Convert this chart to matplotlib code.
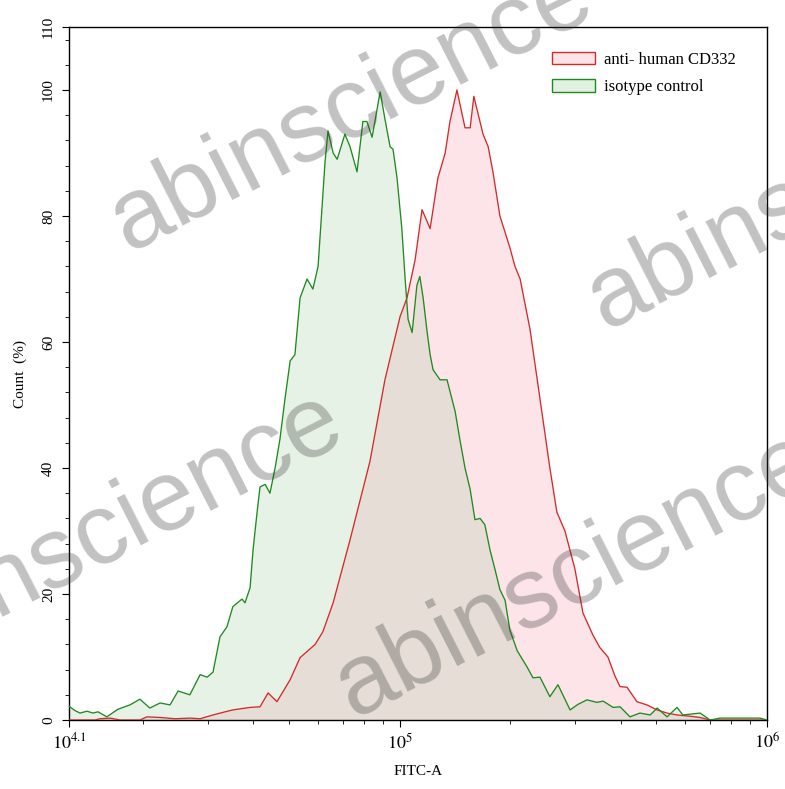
import matplotlib
matplotlib.use("Agg")
import matplotlib.pyplot as plt
from matplotlib.patches import Patch
from matplotlib.ticker import FixedLocator, NullFormatter, LogLocator
import numpy as np

plt.rcParams['font.family'] = ['Liberation Serif', 'DejaVu Serif']
plt.rcParams['mathtext.fontset'] = 'stix'

# ---- data (x as log10 of FITC-A, y as Count %) ----
red_logx = [4.100, 4.171, 4.184, 4.212, 4.239, 4.293, 4.312, 4.348, 4.389, 4.429,
            4.457, 4.492, 4.525, 4.546, 4.593, 4.620, 4.642, 4.666, 4.702, 4.729,
            4.770, 4.791, 4.819, 4.865, 4.919, 4.960, 5.001, 5.020, 5.042, 5.061,
            5.083, 5.104, 5.124, 5.137, 5.156, 5.178, 5.192, 5.202, 5.227, 5.241,
            5.254, 5.273, 5.300, 5.314, 5.328, 5.355, 5.382, 5.409, 5.428, 5.450,
            5.477, 5.499, 5.526, 5.545, 5.567, 5.586, 5.600, 5.619, 5.646, 5.673,
            5.701, 5.728, 5.755, 5.790, 5.818, 5.845, 6.000]
red_count = [0.0, 0.0, 0.2, 0.3, 0.0, 0.0, 0.5, 0.4, 0.2, 0.3,
             0.2, 0.8, 1.3, 1.6, 2.0, 2.1, 4.3, 2.9, 6.4, 9.9,
             12.0, 14.0, 18.6, 28.6, 41.0, 54.0, 64.0, 67.0, 73.0, 81.0,
             78.0, 86.0, 90.0, 95.0, 100.0, 94.0, 94.0, 99.0, 93.0, 91.0,
             87.0, 80.0, 75.0, 72.0, 70.0, 62.0, 51.0, 40.0, 33.0, 30.0,
             24.0, 17.0, 13.5, 11.5, 10.0, 7.0, 5.3, 5.2, 2.9, 2.4,
             1.6, 1.1, 0.8, 0.6, 0.4, 0.0, 0.0]

green_logx = [4.100, 4.116, 4.130, 4.149, 4.165, 4.179, 4.203, 4.233, 4.266, 4.293,
              4.320, 4.348, 4.375, 4.397, 4.429, 4.457, 4.476, 4.492, 4.511, 4.530,
              4.546, 4.571, 4.579, 4.593, 4.601, 4.612, 4.620, 4.634, 4.647, 4.661,
              4.674, 4.688, 4.702, 4.715, 4.729, 4.748, 4.764, 4.778, 4.797, 4.805,
              4.819, 4.830, 4.851, 4.865, 4.884, 4.900, 4.911, 4.925, 4.947, 4.960,
              4.974, 4.982, 4.993, 5.006, 5.015, 5.023, 5.034, 5.047, 5.055, 5.064,
              5.075, 5.083, 5.091, 5.110, 5.129, 5.151, 5.164, 5.178, 5.192, 5.205,
              5.219, 5.232, 5.246, 5.260, 5.273, 5.287, 5.300, 5.320, 5.347, 5.363,
              5.382, 5.409, 5.431, 5.464, 5.486, 5.510, 5.537, 5.554, 5.581, 5.600,
              5.627, 5.654, 5.682, 5.701, 5.728, 5.755, 5.771, 5.818, 5.845, 5.872,
              5.935, 5.981, 6.000]
green_count = [2.2, 1.5, 1.1, 1.4, 1.1, 1.3, 0.5, 1.7, 2.4, 3.3,
               1.9, 2.7, 2.4, 4.6, 4.0, 7.2, 6.8, 7.6, 13.2, 14.8,
               18.0, 19.2, 18.6, 21.0, 27.0, 33.0, 37.0, 37.4, 36.0, 40.0,
               44.5, 51.0, 57.0, 58.0, 67.0, 70.0, 68.4, 72.0, 88.6, 93.5,
               90.0, 89.0, 93.0, 91.0, 87.0, 95.0, 95.0, 92.5, 99.7, 95.4,
               91.0, 90.6, 86.0, 78.0, 70.0, 63.6, 61.5, 69.0, 70.4, 67.0,
               61.5, 58.0, 55.6, 54.0, 54.0, 49.0, 44.5, 40.0, 36.6, 31.8,
               32.0, 31.0, 27.0, 23.8, 20.7, 19.0, 14.3, 11.0, 8.4, 6.7,
               6.8, 3.7, 5.6, 1.6, 2.5, 3.2, 2.8, 3.0, 2.0, 2.1,
               0.5, 1.1, 0.8, 1.9, 0.5, 2.0, 0.8, 1.1, 0.0, 0.3,
               0.3, 0.3, 0.0]

series_labels = ["anti- human CD332", "isotype control"]
y_ticks = [0, 20, 40, 60, 80, 100, 110]
x_ticks_exp = [4.1, 5, 6]
x_tick_labels = [r"$10^{4.1}$", r"$10^{5}$", r"$10^{6}$"]

W, H = 785, 789
fig = plt.figure(figsize=(W / 100, H / 100), dpi=100)
ax = fig.add_axes([69 / W, 1 - 720 / H, (767 - 69) / W, (720 - 27) / H])

red_x = 10 ** np.array(red_logx)
green_x = 10 ** np.array(green_logx)

red_line = '#d42a2a'
green_line = '#1f8a1f'
ax.fill_between(red_x, red_count, 0, facecolor='#fde4e8', edgecolor='none', zorder=1)
ax.fill_between(green_x, green_count, 0, facecolor=(150/255, 200/255, 150/255), alpha=0.22,
                edgecolor='none', zorder=2)
ax.plot(red_x, red_count, color=red_line, lw=0.95, zorder=3)
ax.plot(green_x, green_count, color=green_line, lw=0.95, zorder=4)

ax.set_xscale('log')
ax.set_xlim(10 ** 4.1, 10 ** 6)
ax.set_ylim(0, 110)

ax.xaxis.set_major_locator(FixedLocator([10 ** e for e in x_ticks_exp]))
ax.set_xticklabels(x_tick_labels, fontsize=13)
ax.xaxis.set_minor_locator(LogLocator(base=10, subs=np.arange(2, 10)))
ax.xaxis.set_minor_formatter(NullFormatter())

ax.set_yticks(y_ticks)
ax.set_yticklabels([str(v) for v in y_ticks], rotation=90, va='center', fontsize=11)
ax.yaxis.set_minor_locator(FixedLocator(np.arange(4, 110, 4)))

ax.tick_params(axis='both', which='major', direction='out', length=5, width=0.8)
ax.tick_params(axis='both', which='minor', direction='out', length=3, width=0.6)
ax.tick_params(axis='x', pad=4)
ax.tick_params(axis='y', pad=5)
for s in ax.spines.values():
    s.set_linewidth(1.0)

ax.set_xlabel("FITC-A", fontsize=11, labelpad=9)
ax.set_ylabel("Count  (%)", fontsize=11, labelpad=11)

handles = [Patch(facecolor='#fde4e8', edgecolor=red_line, lw=1.0),
           Patch(facecolor='#e3f1e3', edgecolor=green_line, lw=1.0)]
ax.legend(handles, series_labels, loc='upper left', bbox_to_anchor=(537 / W, 1 - 37 / H),
          bbox_transform=fig.transFigure, frameon=False, fontsize=12,
          handlelength=2.6, handleheight=0.75, handletextpad=0.5, labelspacing=0.68)

# watermarks
wm = dict(fontsize=72, color='#333333', alpha=0.3, rotation=27, rotation_mode='anchor',
          ha='left', va='baseline', family='Liberation Sans', zorder=10)
for (px, py) in [(128, 252), (605, 330), (-122, 678), (353, 718)]:
    fig.text(px / W, 1 - py / H, "abinscience", **wm)

fig.savefig("out.png", dpi=100)
